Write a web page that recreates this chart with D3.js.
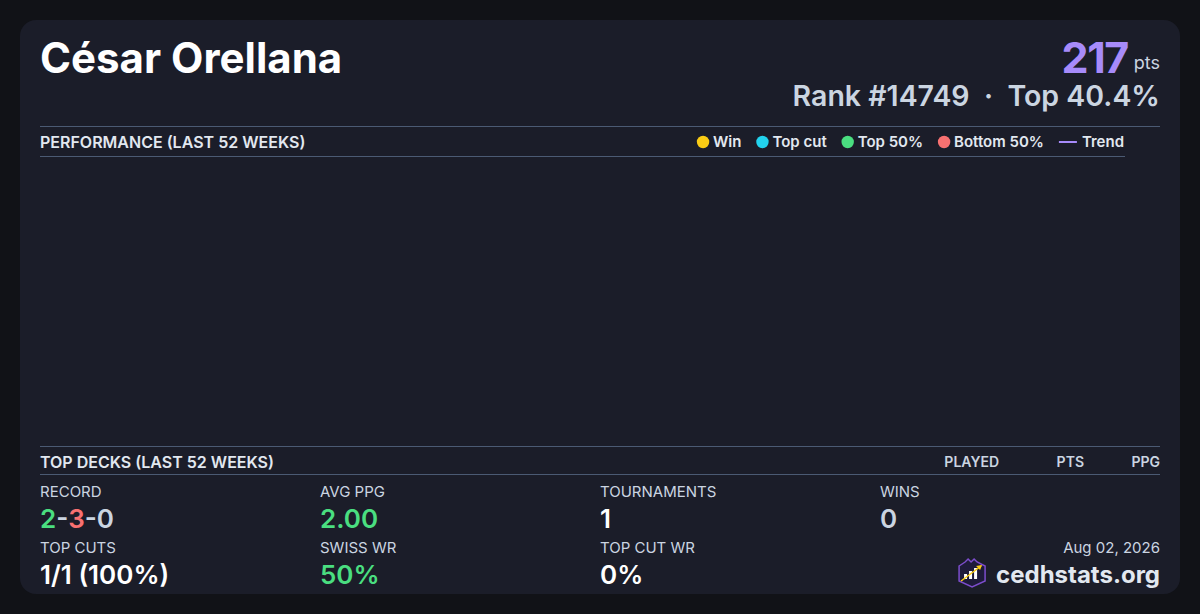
<!DOCTYPE html>
<html>
<head>
<meta charset="utf-8">
<script src="https://cdn.jsdelivr.net/npm/d3@7"></script>
<style>
  html, body { margin: 0; padding: 0; background: #111217; }
  svg { display: block; font-family: Inter, "Noto Sans", sans-serif; }
</style>
</head>
<body>
<svg id="drawing_region"></svg>
<script>
// player header
const playerName = "César Orellana";
const playerPoints = 217;
const playerRank = 14749;
const playerTopPct = 40.4;
const cardDate = "Aug 02, 2026";

// performance chart (no events in the last 52 weeks)
const perfWeeks = [];
const perfPoints = [];
const legendLabels = ["Win", "Top cut", "Top 50%", "Bottom 50%", "Trend"];
const legendKinds = ["dot", "dot", "dot", "dot", "line"];
const legendColors = ["#facc15", "#22d3ee", "#4ade80", "#f87171", "#a78bfa"];

// top decks table (empty)
const deckColumns = ["PLAYED", "PTS", "PPG"];
const deckRows = [];

// summary stats
const statLabels = ["RECORD", "AVG PPG", "TOURNAMENTS", "WINS", "TOP CUTS", "SWISS WR", "TOP CUT WR"];
const recordParts = [2, 3, 0];
const statValues = [null, "2.00", "1", "0", "1/1 (100%)", "50%", "0%"];
const statColors = [null, "#4ade80", "#ffffff", "#cbd5e1", "#ffffff", "#4ade80", "#ffffff"];

const W = 1200, H = 614;
const svg = d3.select("#drawing_region").attr("width", W).attr("height", H);

svg.append("rect").attr("x", 20).attr("y", 20).attr("width", 1160).attr("height", 574)
  .attr("rx", 16).attr("fill", "#1b1d29");

const L = 40, R = 1160;
const rule = "#4b5a73";

// header
svg.append("text").attr("x", L).attr("y", 73).attr("fill", "#ffffff")
  .style("font-size", "42px").style("font-weight", 700).text(playerName);

const ptsLabel = svg.append("text").attr("x", R).attr("y", 69).attr("text-anchor", "end")
  .attr("fill", "#cbd5e1").style("font-size", "18px").style("font-weight", 400).text("pts");
const ptsW = ptsLabel.node().getComputedTextLength();
svg.append("text").attr("x", R - ptsW - 6).attr("y", 73).attr("text-anchor", "end")
  .attr("fill", "#a78bfa").style("font-size", "43px").style("font-weight", 700)
  .style("letter-spacing", "-1.5px").text(playerPoints);

svg.append("text").attr("x", R).attr("y", 106).attr("text-anchor", "end")
  .attr("fill", "#cbd5e1").style("font-size", "28.5px").style("font-weight", 600)
  .style("white-space", "pre")
  .text(`Rank #${playerRank}  ·  Top ${playerTopPct}%`);

// performance section
svg.append("line").attr("x1", L).attr("x2", R).attr("y1", 126.5).attr("y2", 126.5).attr("stroke", rule);
svg.append("text").attr("x", L).attr("y", 147.5).attr("fill", "#e2e8f0")
  .style("font-size", "16px").style("font-weight", 600).text("PERFORMANCE (LAST 52 WEEKS)");

// legend, laid out right-to-left ending at 1124
const legend = svg.append("g");
let lx = 1124;
for (let i = legendLabels.length - 1; i >= 0; i--) {
  const t = legend.append("text").attr("x", lx).attr("y", 147).attr("text-anchor", "end")
    .attr("fill", "#e2e8f0").style("font-size", "15px").style("font-weight", 600).text(legendLabels[i]);
  const tw = t.node().getComputedTextLength();
  const sx = lx - tw - 4;
  if (legendKinds[i] === "dot") {
    legend.append("circle").attr("cx", sx - 6).attr("cy", 142).attr("r", 6.2).attr("fill", legendColors[i]);
    lx = sx - 12 - 15;
  } else {
    legend.append("line").attr("x1", sx - 19).attr("x2", sx - 1).attr("y1", 142).attr("y2", 142)
      .attr("stroke", legendColors[i]).attr("stroke-width", 2);
    lx = sx - 19 - 15;
  }
}
svg.append("line").attr("x1", L).attr("x2", 1125).attr("y1", 156.5).attr("y2", 156.5).attr("stroke", rule);

// chart area (empty: no data points)
const x = d3.scaleLinear().domain([0, 52]).range([L, 1125]);
const y = d3.scaleLinear().domain([0, 1]).range([440, 162]);
const plot = svg.append("g");
plot.selectAll("circle").data(perfWeeks).enter().append("circle")
  .attr("cx", d => x(d)).attr("cy", (d, i) => y(perfPoints[i])).attr("r", 5);

// top decks section
svg.append("line").attr("x1", L).attr("x2", R).attr("y1", 446.5).attr("y2", 446.5).attr("stroke", rule);
svg.append("text").attr("x", L).attr("y", 467.5).attr("fill", "#e2e8f0")
  .style("font-size", "16px").style("font-weight", 600).text("TOP DECKS (LAST 52 WEEKS)");
const colRight = [999, 1084, 1160];
svg.selectAll(".colhead").data(deckColumns).enter().append("text")
  .attr("x", (d, i) => colRight[i]).attr("y", 467).attr("text-anchor", "end")
  .attr("fill", "#cbd5e1").style("font-size", "14px").style("font-weight", 600).text(d => d);
svg.append("line").attr("x1", L).attr("x2", R).attr("y1", 474.5).attr("y2", 474.5).attr("stroke", rule);

// stats grid
const colX = [40, 320, 600, 880];
const labelY = [497, 553], valueY = [528, 584];
statLabels.forEach((lab, i) => {
  const r = Math.floor(i / 4), c = i % 4;
  svg.append("text").attr("x", colX[c]).attr("y", labelY[r]).attr("fill", "#cbd5e1")
    .style("font-size", "15px").style("font-weight", 400).text(lab);
  const v = svg.append("text").attr("x", colX[c]).attr("y", valueY[r])
    .style("font-size", "26px").style("font-weight", 600);
  if (i === 0) {
    const recColors = ["#4ade80", "#f87171", "#cbd5e1"];
    recordParts.forEach((p, j) => {
      if (j > 0) v.append("tspan").attr("fill", "#cbd5e1").text("-");
      v.append("tspan").attr("fill", recColors[j]).text(p);
    });
  } else {
    v.attr("fill", statColors[i]).text(statValues[i]);
  }
});

// footer
svg.append("text").attr("x", R).attr("y", 553).attr("text-anchor", "end")
  .attr("fill", "#cbd5e1").style("font-size", "15px").text(cardDate);
const site = svg.append("text").attr("x", R).attr("y", 583).attr("text-anchor", "end")
  .attr("fill", "#e2e8f0").style("font-size", "24px").style("font-weight", 700).text("cedhstats.org");
const siteW = site.node().getComputedTextLength();

// logo: crown shield with bars and arrow
const lg = svg.append("g").attr("transform", `translate(${R - siteW - 38},560)`);
lg.append("path")
  .attr("d", "M1,6 L7,2 L10,-1 L13,2 L16,-1 L19,2 L27,6 L27,21 L14,27 L1,21 Z")
  .attr("fill", "#1e1b3a").attr("stroke", "#7c4dcc").attr("stroke-width", 1.5);
[[6, 14, 5], [11, 11, 8], [16, 8, 11]].forEach(b => {
  lg.append("rect").attr("x", b[0]).attr("y", b[1]).attr("width", 3).attr("height", b[2]).attr("fill", "#ffffff");
});
lg.append("line").attr("x1", 3).attr("y1", 21).attr("x2", 23).attr("y2", 6)
  .attr("stroke", "#facc15").attr("stroke-width", 1.5);
lg.append("path").attr("d", "M24,5 L18,6 L22,10 Z").attr("fill", "#facc15");
</script>
</body>
</html>
